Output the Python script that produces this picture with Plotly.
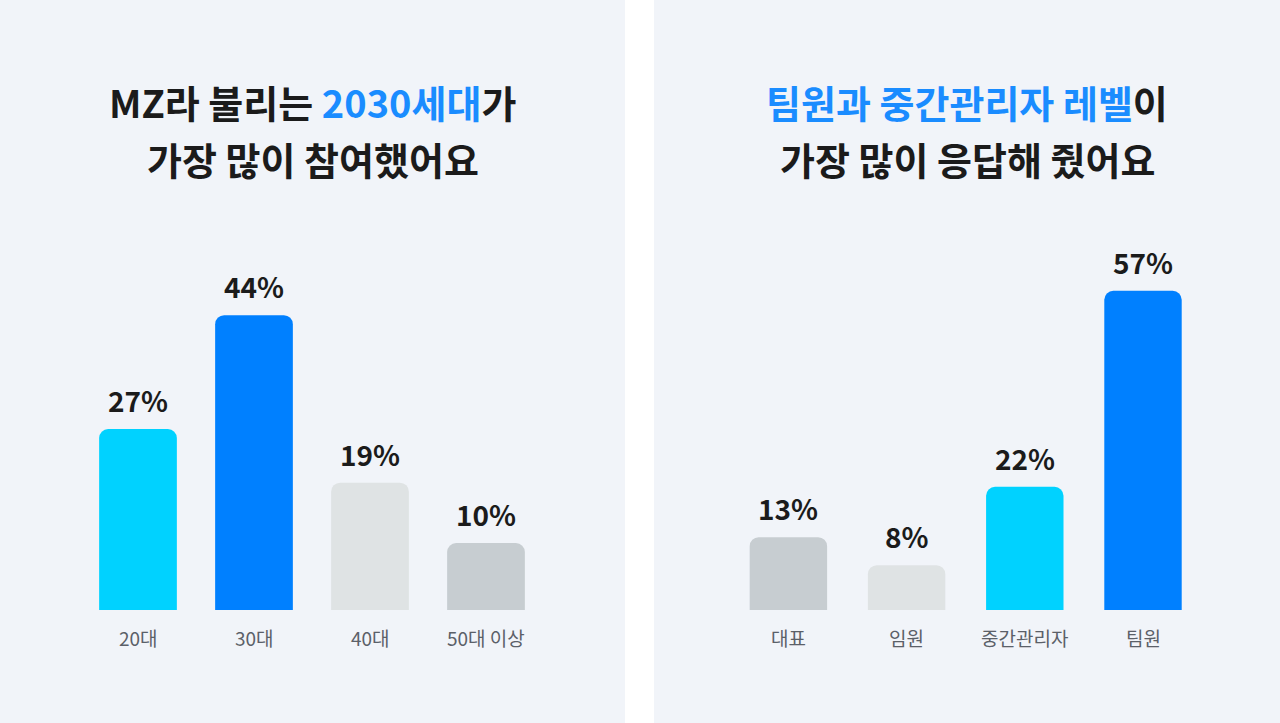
import plotly.graph_objects as go

# ---- data ----
age_labels = ["20대", "30대", "40대", "50대 이상"]
age_values = [27, 44, 19, 10]
age_colors = ["#00d2ff", "#0080ff", "#dfe3e4", "#c7cdd1"]

role_labels = ["대표", "임원", "중간관리자", "팀원"]
role_values = [13, 8, 22, 57]
role_colors = ["#c7cdd1", "#dfe3e4", "#00d2ff", "#0080ff"]

title_left = ["MZ라 불리는 <span style='color:#1a8cff'>2030세대</span>가", "가장 많이 참여했어요"]
title_right = ["<span style='color:#1a8cff'>팀원과 중간관리자 레벨</span>이", "가장 많이 응답해 줬어요"]

FONT = "Noto Sans CJK KR"
W, H = 1280, 723
PANEL_BG = "#f1f4f9"
BASE_PX = 113  # baseline distance from bottom in px

fig = go.Figure()

fig.add_trace(go.Bar(
    x=list(range(len(age_labels))), y=age_values,
    marker=dict(color=age_colors, cornerradius=9, line=dict(width=0)),
    width=0.67, xaxis="x", yaxis="y", hoverinfo="skip",
))
fig.add_trace(go.Bar(
    x=list(range(len(role_labels))), y=role_values,
    marker=dict(color=role_colors, cornerradius=9, line=dict(width=0)),
    width=0.655, xaxis="x2", yaxis="y2", hoverinfo="skip",
))

annotations = []
def add_labels(labels, values, xr, yr):
    for i, (lab, v) in enumerate(zip(labels, values)):
        annotations.append(dict(
            x=i, y=v, xref=xr, yref=yr, text=f"<b>{v}%</b>", showarrow=False,
            yanchor="middle", yshift=29,
            font=dict(family=FONT, size=28, color="#1b1b1b")))
        annotations.append(dict(
            x=i, y=0, xref=xr, yref=yr, text=lab, showarrow=False,
            yanchor="middle", yshift=-27,
            font=dict(family=FONT, size=19, color="#5b6068")))

add_labels(age_labels, age_values, "x", "y")
add_labels(role_labels, role_values, "x2", "y2")

def add_title(lines, xc):
    for line, ypx in zip(lines, [102, 158]):
        annotations.append(dict(
            x=xc, y=1 - ypx / H, xref="paper", yref="paper",
            text=f"<b>{line}</b>", showarrow=False,
            xanchor="center", yanchor="middle",
            font=dict(family=FONT, size=38, color="#1b1b1b")))

add_title(title_left, 312.5 / W)
add_title(title_right, 967 / W)

# scales
k_left, k_right = 6.7, 5.6
left_dom = [0, 625 / W]
right_dom = [654 / W, 1]
sp_left, c0_left = 116.0, 138.0
sp_right, c0_right = 118.2, 788.4 - 654

fig.update_layout(
    width=W, height=H,
    margin=dict(l=0, r=0, t=0, b=0),
    paper_bgcolor="#ffffff", plot_bgcolor=PANEL_BG,
    showlegend=False, bargap=0.33,
    annotations=annotations,
    xaxis=dict(domain=left_dom, range=[-c0_left / sp_left, (625 - c0_left) / sp_left],
               visible=False, fixedrange=True),
    yaxis=dict(domain=[0, 1], range=[-BASE_PX / k_left, (H - BASE_PX) / k_left],
               visible=False, fixedrange=True),
    xaxis2=dict(domain=right_dom, range=[-c0_right / sp_right, (626 - c0_right) / sp_right],
                visible=False, fixedrange=True),
    yaxis2=dict(domain=[0, 1], range=[-BASE_PX / k_right, (H - BASE_PX) / k_right],
                anchor="x2", visible=False, fixedrange=True),
)

fig.write_html(
    "out.html",
    config={"displayModeBar": False},
    post_script="document.body.style.margin='0';document.body.style.overflow='hidden';",
)
